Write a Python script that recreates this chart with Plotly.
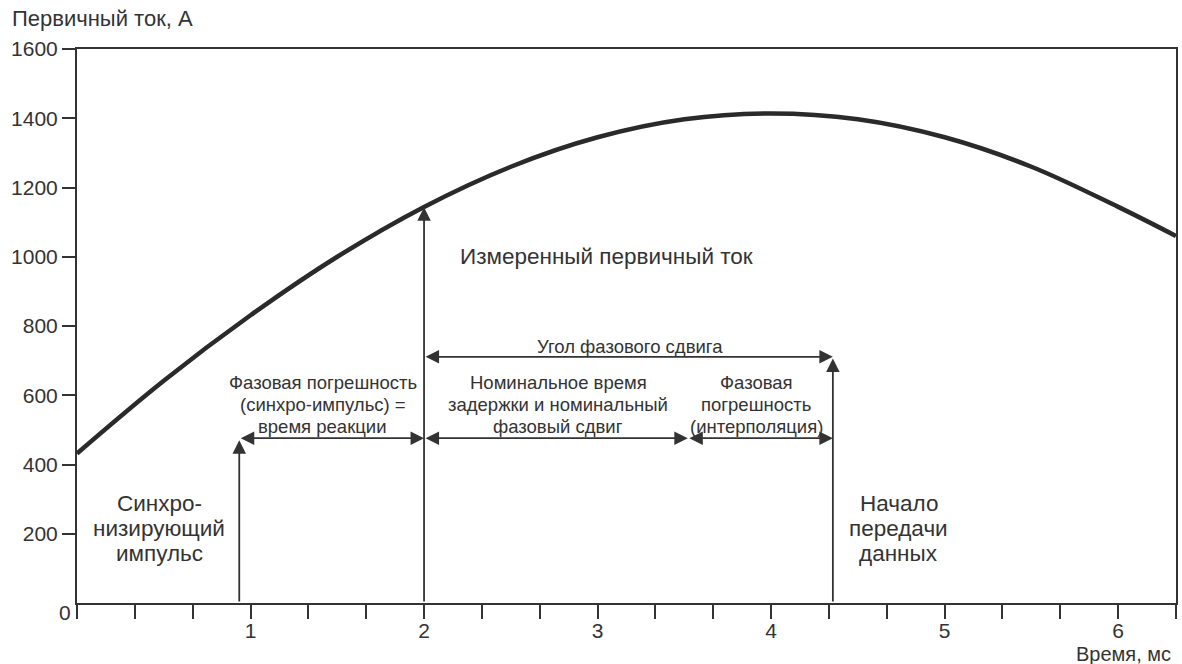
import plotly.graph_objects as go

# Curve: primary current (A) versus time (ms)
time_ms = [0.0, 0.5, 1.0, 1.5, 2.0, 2.5, 3.0, 3.5, 4.0, 4.5, 5.0, 5.5, 6.0, 6.333]
current_a = [432, 642, 831, 1000, 1144, 1260, 1345, 1397, 1414, 1397, 1345, 1260, 1144, 1060]

# Marker times (ms) and heights (A)
t_sync = 0.935
t_meas = 2.0
t_split = 3.52
t_send = 4.356
sync_tip = 470
meas_tip = 1143
send_tip = 706
lower_arrow_level = 476
upper_arrow_level = 711

x_max = 6.3333
y_tick_vals = [200, 400, 600, 800, 1000, 1200, 1400, 1600]
x_tick_vals = [i / 3 for i in range(0, 20)]
x_tick_text = [str(i // 3) if i % 3 == 0 and i > 0 else "" for i in range(0, 20)]

FONT = "Liberation Sans, Arial, sans-serif"
INK = "#333333"

fig = go.Figure()
fig.add_trace(go.Scatter(
    x=time_ms, y=current_a, mode="lines",
    line=dict(color="#2a2a2a", width=4.5, shape="spline", smoothing=1.0),
    hoverinfo="skip", showlegend=False,
))

annotations = []


def arrow(x, y, ax, ay, both=False):
    annotations.append(dict(
        x=x, y=y, ax=ax, ay=ay, xref="x", yref="y", axref="x", ayref="y",
        text="", showarrow=True, arrowhead=2, arrowsize=1.5, arrowwidth=1.8,
        arrowcolor=INK, arrowside="end+start" if both else "end",
        standoff=0, startstandoff=0,
    ))


# vertical arrows
arrow(t_sync, sync_tip, t_sync, 0)
arrow(t_meas, meas_tip, t_meas, 0)
arrow(t_send, send_tip, t_send, 0)
# horizontal double arrows
arrow(t_meas, lower_arrow_level, t_sync, lower_arrow_level, both=True)
arrow(t_split, lower_arrow_level, t_meas, lower_arrow_level, both=True)
arrow(t_send, lower_arrow_level, t_split, lower_arrow_level, both=True)
arrow(t_send, upper_arrow_level, t_meas, upper_arrow_level, both=True)


def label(x, y, text, size, xanchor="center", xref="x", yref="y"):
    annotations.append(dict(
        x=x, y=y, xref=xref, yref=yref, text=text, showarrow=False,
        xanchor=xanchor, yanchor="middle",
        font=dict(family=FONT, size=size, color=INK),
    ))


def block(x, ys, lines, size):
    for yy, t in zip(ys, lines):
        label(x, yy, t, size)


SMALL = 18.5
LARGE = 22.5
small_rows = [638, 574, 511]
large_rows = [286, 214, 144]

label(2.196, 1002, "Измеренный первичный ток", LARGE, xanchor="left")
label(3.187, 742, "Угол фазового сдвига", SMALL)
block(1.415, small_rows, ["Фазовая погрешность", "(синхро-импульс) =", "время реакции"], SMALL)
block(2.772, small_rows, ["Номинальное время", "задержки и номинальный", "фазовый сдвиг"], SMALL)
block(3.914, small_rows, ["Фазовая", "погрешность", "(интерполяция)"], SMALL)
block(0.473, large_rows, ["Синхро-", "низирующий", "импульс"], LARGE)
block(4.735, large_rows, ["Начало", "передачи", "данных"], LARGE)
label(-0.0109, -0.018, "0", 21, xref="paper", yref="paper")
label(-0.061, 1.0554, "Первичный ток, А", 22, xanchor="left", xref="paper", yref="paper")
label(0.9975, -0.0915, "Время, мс", 20, xanchor="right", xref="paper", yref="paper")

fig.update_layout(
    width=1182, height=664,
    margin=dict(l=77, r=6, t=49, b=61, autoexpand=False),
    paper_bgcolor="white", plot_bgcolor="white",
    font=dict(family=FONT, size=21, color=INK),
    annotations=annotations,
    showlegend=False,
)
fig.update_xaxes(
    range=[0, x_max], tickvals=x_tick_vals, ticktext=x_tick_text,
    ticks="outside", ticklen=14, tickwidth=2, tickcolor=INK,
    ticklabelstandoff=-6,
    showline=True, linewidth=2, linecolor=INK, mirror=True, automargin=False,
    showgrid=False, zeroline=False, tickfont=dict(size=21, family=FONT, color=INK),
)
fig.update_yaxes(
    range=[0, 1600], tickvals=y_tick_vals,
    ticks="outside", ticklen=13, tickwidth=2, tickcolor=INK,
    showline=True, linewidth=2, linecolor=INK, mirror=True, automargin=False,
    showgrid=False, zeroline=False, tickfont=dict(size=21, family=FONT, color=INK),
)

fig.write_html("out.html", config={"displayModeBar": False},
               post_script="document.body.style.margin='0px';")
